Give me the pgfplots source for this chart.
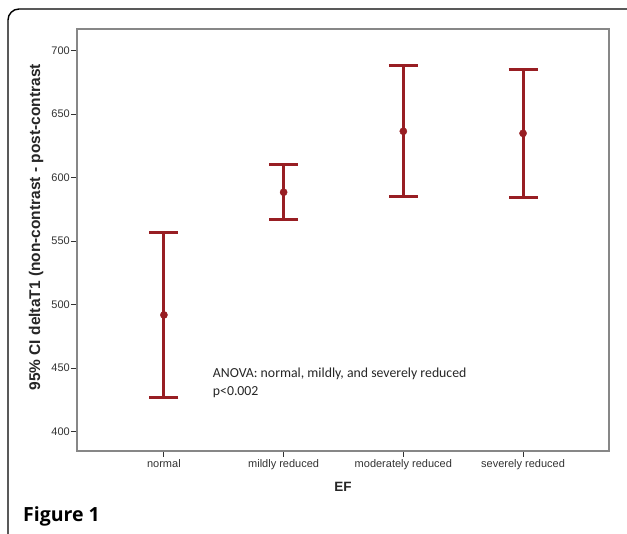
\documentclass[border=0pt]{standalone}
\usepackage{fontspec}
\setmainfont{Liberation Sans}
\newfontfamily\carlito{Carlito}
\newfontfamily\opensans{Open Sans}
\usepackage{pgfplots}
\pgfplotsset{compat=1.18}
\definecolor{darkred}{RGB}{152,30,35}
\definecolor{framegray}{RGB}{135,135,135}
\definecolor{ticktext}{RGB}{50,50,50}
\begin{document}
\begin{tikzpicture}[x=1pt,y=1pt]
\useasboundingbox (0,0) rectangle (627,534);
\draw[line width=1.4pt, rounded corners=11pt] (8,525) rectangle (640,-12);
\begin{axis}[
  at={(77pt,83pt)}, anchor=south west,
  scale only axis, width=532pt, height=422pt,
  xmin=-0.726, xmax=3.718, ymin=384.8, ymax=717,
  xtick={0,1,2,3},
  xticklabels={normal, mildly reduced, moderately reduced, severely reduced},
  ytick={400,450,...,700},
  axis line style={framegray, line width=1.6pt},
  tick align=outside, tick pos=left,
  major tick length=6pt,
  tick style={ticktext, line width=0.9pt},
  /pgf/number format/assume math mode=true,
  ticklabel style={font=\fontsize{11}{12}\selectfont, text=ticktext},
  yticklabel style={inner xsep=1pt},
  xticklabel style={inner ysep=2pt},
  xlabel={EF},
  ylabel={95\% CI deltaT1 (non-contrast - post-contrast},
  xlabel style={at={(axis description cs:0.5,-0.085)}, anchor=center, font=\fontsize{13.5}{15}\selectfont\bfseries, text=black!85},
  ylabel style={at={(axis description cs:-0.077,0.53)}, anchor=center, font=\fontsize{15.5}{17}\selectfont\bfseries, text=black!85},
]
\addplot[only marks, mark=*, mark size=3.6pt, color=darkred,
  error bars/.cd, y dir=both, y explicit,
  error bar style={line width=3pt, darkred},
  error mark options={rotate=90, line width=3pt, mark size=14.5pt, darkred}]
coordinates {
  (0,491.9) +- (0,64.8)
  (1,588.5) +- (0,21.5)
  (2,636.5) +- (0,51.5)
  (3,634.85) +- (0,50.55)
};
\end{axis}
\node[anchor=west, inner sep=0pt, align=left, font=\carlito\fontsize{13.8}{17.7}\selectfont, text=black!85] at (212.7,151.2) {ANOVA: normal, mildly, and severely reduced\\p<0.002};
\node[anchor=west, inner sep=0pt, font=\opensans\bfseries\fontsize{19.5}{22}\selectfont] at (23,17.3) {Figure 1};
\end{tikzpicture}
\end{document}
